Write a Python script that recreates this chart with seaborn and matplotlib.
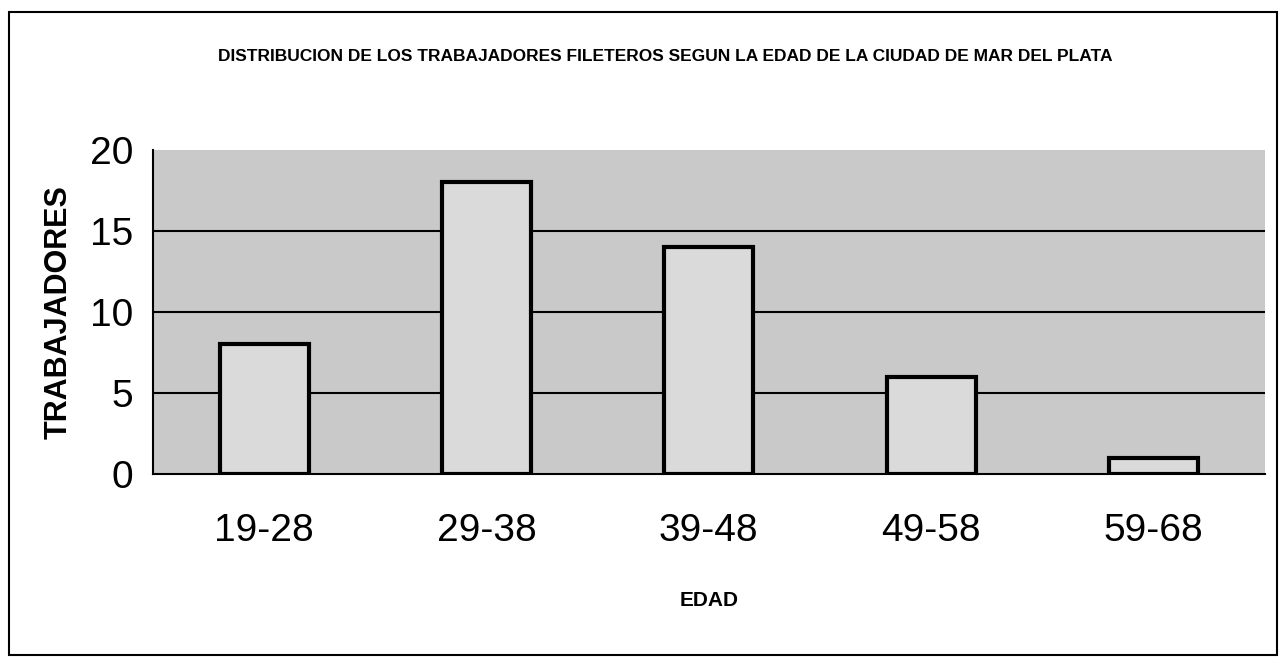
import matplotlib
matplotlib.use('Agg')
import matplotlib.pyplot as plt
import matplotlib.patches as mpatches
from matplotlib import font_manager
import seaborn as sns
import numpy as np
import pandas as pd

# Data
edades = ["19-28", "29-38", "39-48", "49-58", "59-68"]
trabajadores = [8, 18, 14, 6, 1]

sns.set_style("white")
names = {f.name for f in font_manager.fontManager.ttflist}
fam = "Liberation Sans Narrow" if "Liberation Sans Narrow" in names else "Liberation Sans"
plt.rcParams['font.family'] = [fam, 'DejaVu Sans']
plt.rcParams['text.color'] = 'black'
plt.rcParams['axes.labelcolor'] = 'black'
plt.rcParams['xtick.color'] = 'black'
plt.rcParams['ytick.color'] = 'black'

df = pd.DataFrame({"Edad": edades, "Trabajadores": trabajadores})

fig = plt.figure(figsize=(12.8, 6.6), dpi=100)
ax = fig.add_axes([0.1195, 0.2818, 0.8685, 0.4909])
ax.set_facecolor('#c9c9c9')

sns.barplot(data=df, x="Edad", y="Trabajadores", ax=ax, width=0.4,
            color='#dadada', edgecolor='black', linewidth=3, saturation=1, zorder=3)

ax.set_ylim(0, 20)
ax.set_xlim(-0.5, len(edades) - 0.5)
ax.set_yticks([0, 5, 10, 15, 20])
for y in [5, 10, 15]:
    ax.axhline(y, color='black', lw=1.5, zorder=1)

# boundary ticks (major) and centered labels (minor)
ax.set_xticks(np.arange(-0.5, len(edades), 1.0))
ax.set_xticklabels([])
ax.set_xticks(np.arange(len(edades)), minor=True)
ax.set_xticklabels(edades, minor=True, fontsize=28)
ax.tick_params(axis='x', which='major', length=15, width=1.5, direction='out', color='black')
ax.tick_params(axis='x', which='minor', length=0, pad=28)
ax.tick_params(axis='y', length=10, width=1.5, direction='out', color='black', labelsize=28, pad=4)

for s in ['top', 'right']:
    ax.spines[s].set_visible(False)
for s in ['left', 'bottom']:
    ax.spines[s].set_color('black')
    ax.spines[s].set_linewidth(1.5)

ax.set_xlabel("EDAD", fontsize=15, fontweight='bold', labelpad=30)
ax.set_ylabel("TRABAJADORES", fontsize=22, fontweight='bold', labelpad=12)

fig.text(0.52, 0.915, "DISTRIBUCION DE LOS TRABAJADORES FILETEROS SEGUN LA EDAD DE LA CIUDAD DE MAR DEL PLATA",
         ha='center', va='center', fontsize=12.5, fontweight='bold')

frame = mpatches.Rectangle((9 / 1280, 5 / 660), 1268 / 1280, 643 / 660, transform=fig.transFigure,
                           fill=False, edgecolor='black', lw=1.5)
fig.patches.append(frame)

fig.savefig("out.png", dpi=100)
